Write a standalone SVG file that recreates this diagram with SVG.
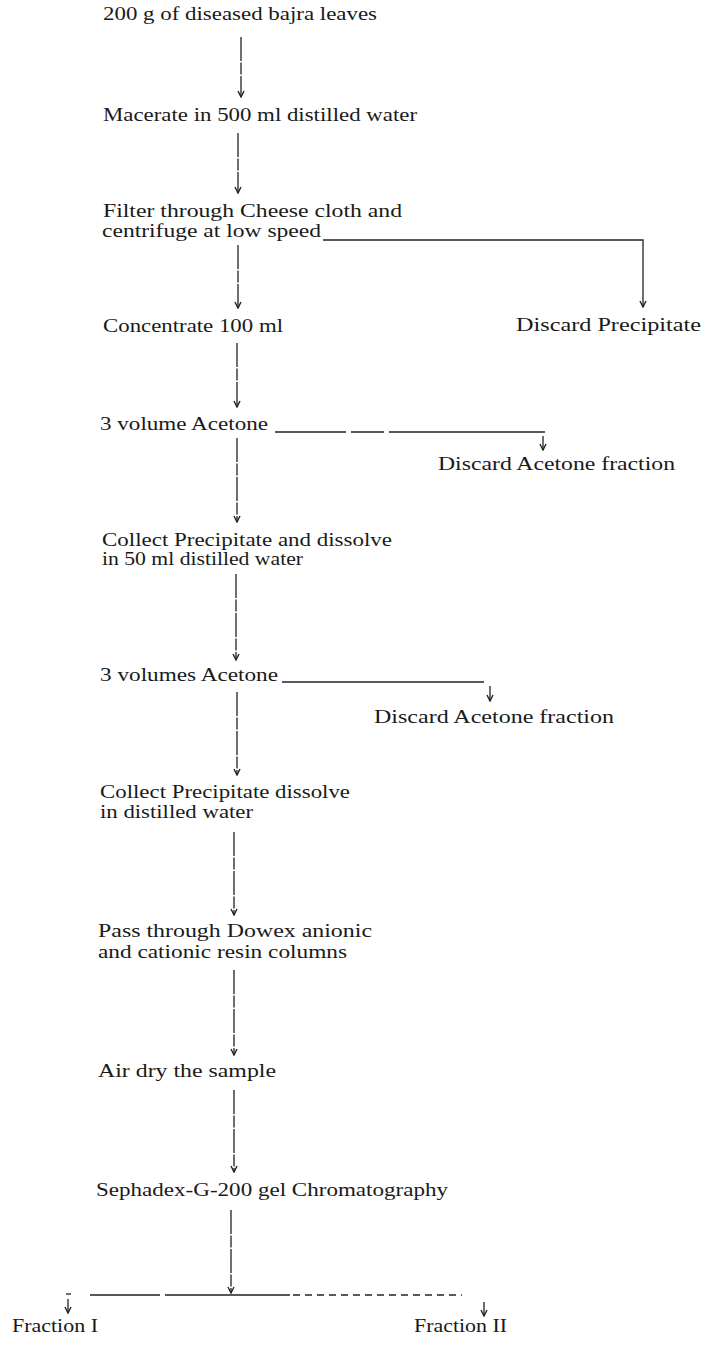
<svg xmlns="http://www.w3.org/2000/svg" width="707" height="1345" viewBox="0 0 707 1345">
  <style>
    .lbl { font-family: "Liberation Serif", "Times New Roman", serif; font-size: 19px; fill: #1a1a1a; }
    .ln { fill: none; stroke: #222; stroke-width: 1.3; }
    .vd { stroke-dasharray: 24 1.5 12 1.5; }
    .dsh { stroke-dasharray: 7 5; }
  </style>
  <defs>
    <marker id="ah" viewBox="-7 -4 8 8" refX="0" refY="0" markerWidth="8" markerHeight="8" orient="auto" markerUnits="userSpaceOnUse">
      <path d="M-6,-3 L0,0 L-6,3" fill="none" stroke="#222" stroke-width="1.4"/>
    </marker>
  </defs>
  <rect width="707" height="1345" fill="#ffffff"/>

  <g id="connectors">
    <path class="ln vd" d="M241,37 V97" marker-end="url(#ah)"/>
    <path class="ln vd" d="M238,133 V193" marker-end="url(#ah)"/>
    <path class="ln vd" d="M238,245 V308" marker-end="url(#ah)"/>
    <path class="ln" d="M323,240 H643 V307" marker-end="url(#ah)"/>
    <path class="ln vd" d="M237,343 V407" marker-end="url(#ah)"/>
    <path class="ln" d="M275,432 H346 M351,432 H384 M389,432 H545"/>
    <path class="ln" d="M543,436 V450" marker-end="url(#ah)"/>
    <path class="ln vd" d="M237,438 V522" marker-end="url(#ah)"/>
    <path class="ln vd" d="M236,574 V660" marker-end="url(#ah)"/>
    <path class="ln" d="M282,682 H484"/>
    <path class="ln" d="M490,686 V701" marker-end="url(#ah)"/>
    <path class="ln vd" d="M237,692 V775" marker-end="url(#ah)"/>
    <path class="ln vd" d="M234,832 V915" marker-end="url(#ah)"/>
    <path class="ln vd" d="M234,970 V1055" marker-end="url(#ah)"/>
    <path class="ln vd" d="M234,1090 V1172" marker-end="url(#ah)"/>
    <path class="ln vd" d="M231,1210 V1293" marker-end="url(#ah)"/>
    <path class="ln" d="M90,1295 H160 M165,1295 H290"/>
    <path class="ln dsh" d="M293,1295 H462"/>
    <path class="ln" d="M66,1294 H71"/>
    <path class="ln" d="M68,1299 V1313" marker-end="url(#ah)"/>
    <path class="ln" d="M484,1302 V1316" marker-end="url(#ah)"/>
  </g>

  <g id="n-leaves"><text class="lbl" x="103" y="20" textLength="274" lengthAdjust="spacingAndGlyphs">200 g of diseased bajra leaves</text></g>
  <g id="n-macerate"><text class="lbl" x="103" y="121" textLength="314" lengthAdjust="spacingAndGlyphs">Macerate in 500 ml distilled water</text></g>
  <g id="n-filter">
    <text class="lbl" x="103" y="217" textLength="299" lengthAdjust="spacingAndGlyphs">Filter through Cheese cloth and</text>
    <text class="lbl" x="102" y="237" textLength="219" lengthAdjust="spacingAndGlyphs">centrifuge at low speed</text>
  </g>
  <g id="n-concentrate"><text class="lbl" x="103" y="332" textLength="180" lengthAdjust="spacingAndGlyphs">Concentrate 100 ml</text></g>
  <g id="n-discard-precipitate"><text class="lbl" x="516" y="331" textLength="185" lengthAdjust="spacingAndGlyphs">Discard Precipitate</text></g>
  <g id="n-acetone1"><text class="lbl" x="100" y="430" textLength="168" lengthAdjust="spacingAndGlyphs">3 volume Acetone</text></g>
  <g id="n-discard-acetone1"><text class="lbl" x="438" y="470" textLength="237" lengthAdjust="spacingAndGlyphs">Discard Acetone fraction</text></g>
  <g id="n-collect1">
    <text class="lbl" x="102" y="546" textLength="290" lengthAdjust="spacingAndGlyphs">Collect Precipitate and dissolve</text>
    <text class="lbl" x="102" y="565" textLength="201" lengthAdjust="spacingAndGlyphs">in 50 ml distilled water</text>
  </g>
  <g id="n-acetone2"><text class="lbl" x="100" y="681" textLength="178" lengthAdjust="spacingAndGlyphs">3 volumes Acetone</text></g>
  <g id="n-discard-acetone2"><text class="lbl" x="374" y="723" textLength="240" lengthAdjust="spacingAndGlyphs">Discard Acetone fraction</text></g>
  <g id="n-collect2">
    <text class="lbl" x="100" y="798" textLength="250" lengthAdjust="spacingAndGlyphs">Collect Precipitate dissolve</text>
    <text class="lbl" x="100" y="818" textLength="153" lengthAdjust="spacingAndGlyphs">in distilled water</text>
  </g>
  <g id="n-dowex">
    <text class="lbl" x="98" y="937" textLength="274" lengthAdjust="spacingAndGlyphs">Pass through Dowex anionic</text>
    <text class="lbl" x="98" y="958" textLength="249" lengthAdjust="spacingAndGlyphs">and cationic resin columns</text>
  </g>
  <g id="n-airdry"><text class="lbl" x="98" y="1077" textLength="178" lengthAdjust="spacingAndGlyphs">Air dry the sample</text></g>
  <g id="n-sephadex"><text class="lbl" x="96" y="1196" textLength="352" lengthAdjust="spacingAndGlyphs">Sephadex-G-200 gel Chromatography</text></g>
  <g id="n-fraction1"><text class="lbl" x="12" y="1332" textLength="86" lengthAdjust="spacingAndGlyphs">Fraction I</text></g>
  <g id="n-fraction2"><text class="lbl" x="414" y="1332" textLength="93" lengthAdjust="spacingAndGlyphs">Fraction II</text></g>
</svg>
